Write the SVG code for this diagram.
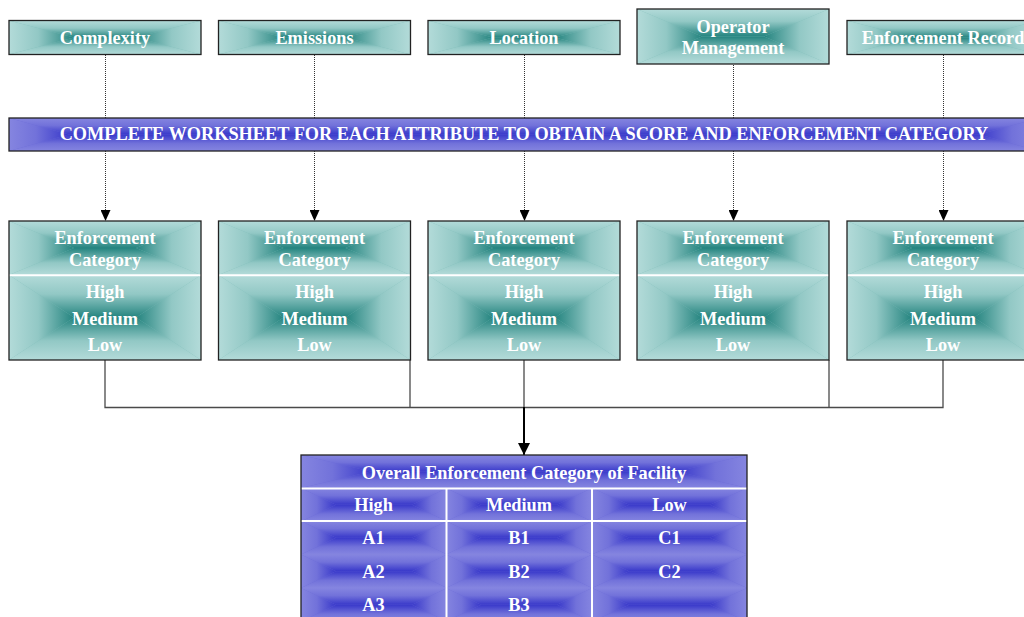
<svg xmlns="http://www.w3.org/2000/svg" xmlns:xlink="http://www.w3.org/1999/xlink" width="1024" height="617" viewBox="0 0 1024 617">
<style>
.t{font-family:"Liberation Serif","Times New Roman",serif;font-weight:bold;font-size:18.3px;fill:#ffffff;text-anchor:middle}
.frame{fill:none;stroke:#222222;stroke-width:1.3}
.dot{fill:none;stroke:#333333;stroke-width:1;stroke-dasharray:1 1}
.conn{fill:none;stroke:#4a4a4a;stroke-width:1.3}
.sep{stroke:#ffffff;stroke-width:2}
</style>
<defs>
<linearGradient id="tT" x1="0" y1="0" x2="0" y2="1"><stop offset="0" stop-color="#B3DBD9"/><stop offset="0.45" stop-color="#92C8C5"/><stop offset="1" stop-color="#24847F"/></linearGradient>
<linearGradient id="tB" x1="0" y1="1" x2="0" y2="0"><stop offset="0" stop-color="#B3DBD9"/><stop offset="0.45" stop-color="#92C8C5"/><stop offset="1" stop-color="#24847F"/></linearGradient>
<linearGradient id="tL" x1="0" y1="0" x2="1" y2="0"><stop offset="0" stop-color="#B3DBD9"/><stop offset="0.45" stop-color="#92C8C5"/><stop offset="1" stop-color="#24847F"/></linearGradient>
<linearGradient id="tR" x1="1" y1="0" x2="0" y2="0"><stop offset="0" stop-color="#B3DBD9"/><stop offset="0.45" stop-color="#92C8C5"/><stop offset="1" stop-color="#24847F"/></linearGradient>
<linearGradient id="bT" x1="0" y1="0" x2="0" y2="1"><stop offset="0" stop-color="#8585E0"/><stop offset="0.45" stop-color="#7272DA"/><stop offset="1" stop-color="#3838CA"/></linearGradient>
<linearGradient id="bB" x1="0" y1="1" x2="0" y2="0"><stop offset="0" stop-color="#8585E0"/><stop offset="0.45" stop-color="#7272DA"/><stop offset="1" stop-color="#3838CA"/></linearGradient>
<linearGradient id="bL" x1="0" y1="0" x2="1" y2="0"><stop offset="0" stop-color="#8585E0"/><stop offset="0.45" stop-color="#7272DA"/><stop offset="1" stop-color="#3838CA"/></linearGradient>
<linearGradient id="bR" x1="1" y1="0" x2="0" y2="0"><stop offset="0" stop-color="#8585E0"/><stop offset="0.45" stop-color="#7272DA"/><stop offset="1" stop-color="#3838CA"/></linearGradient>
<g id="tealTop">
<rect width="192" height="34" fill="#7FBCB9"/>
<polygon points="0,0 192,0 127,17 65,17" fill="url(#tT)"/>
<polygon points="0,34 192,34 127,17 65,17" fill="url(#tB)"/>
<polygon points="0,0 65,17 0,34" fill="url(#tL)"/>
<polygon points="192,0 127,17 192,34" fill="url(#tR)"/>
</g>
<g id="tealOp">
<rect width="192" height="55" fill="#7FBCB9"/>
<polygon points="0,0 192,0 127,27.5 65,27.5" fill="url(#tT)"/>
<polygon points="0,55 192,55 127,27.5 65,27.5" fill="url(#tB)"/>
<polygon points="0,0 65,27.5 0,55" fill="url(#tL)"/>
<polygon points="192,0 127,27.5 192,55" fill="url(#tR)"/>
</g>
<g id="tealHead">
<rect width="192" height="54" fill="#7FBCB9"/>
<polygon points="0,0 192,0 127,27 65,27" fill="url(#tT)"/>
<polygon points="0,54 192,54 127,27 65,27" fill="url(#tB)"/>
<polygon points="0,0 65,27 0,54" fill="url(#tL)"/>
<polygon points="192,0 127,27 192,54" fill="url(#tR)"/>
</g>
<g id="tealBody">
<rect width="192" height="85" fill="#7FBCB9"/>
<polygon points="0,0 192,0 127,42.5 65,42.5" fill="url(#tT)"/>
<polygon points="0,85 192,85 127,42.5 65,42.5" fill="url(#tB)"/>
<polygon points="0,0 65,42.5 0,85" fill="url(#tL)"/>
<polygon points="192,0 127,42.5 192,85" fill="url(#tR)"/>
</g>
<g id="blueBanner">
<rect width="1030" height="33" fill="#6A6AD6"/>
<polygon points="0,0 1030,0 970,16.5 60,16.5" fill="url(#bT)"/>
<polygon points="0,33 1030,33 970,16.5 60,16.5" fill="url(#bB)"/>
<polygon points="0,0 60,16.5 0,33" fill="url(#bL)"/>
<polygon points="1030,0 970,16.5 1030,33" fill="url(#bR)"/>
</g>
<g id="blueTitle">
<rect width="446" height="33" fill="#6A6AD6"/>
<polygon points="0,0 446,0 376,16.5 70,16.5" fill="url(#bT)"/>
<polygon points="0,33 446,33 376,16.5 70,16.5" fill="url(#bB)"/>
<polygon points="0,0 70,16.5 0,33" fill="url(#bL)"/>
<polygon points="446,0 376,16.5 446,33" fill="url(#bR)"/>
</g>
<g id="blueCell">
<rect width="146" height="33.5" fill="#6A6AD6"/>
<polygon points="0,0 146,0 111,16.75 35,16.75" fill="url(#bT)"/>
<polygon points="0,33.5 146,33.5 111,16.75 35,16.75" fill="url(#bB)"/>
<polygon points="0,0 35,16.75 0,33.5" fill="url(#bL)"/>
<polygon points="146,0 111,16.75 146,33.5" fill="url(#bR)"/>
</g>
<marker id="arr" viewBox="0 0 11 10" refX="11" refY="5" markerWidth="11" markerHeight="10" markerUnits="userSpaceOnUse" orient="auto">
<path d="M0,0 L11,5 L0,10 Z" fill="#000000"/>
</marker>
<marker id="arrBig" viewBox="0 0 12 12" refX="12" refY="6" markerWidth="12" markerHeight="12" markerUnits="userSpaceOnUse" orient="auto">
<path d="M0,0 L12,6 L0,12 Z" fill="#000000"/>
</marker>
</defs>

<rect width="1024" height="617" fill="#ffffff"/>

<g id="connectors">
<line class="dot" x1="105.5" y1="55" x2="105.5" y2="221" marker-end="url(#arr)"/>
<line class="dot" x1="314.5" y1="55" x2="314.5" y2="221" marker-end="url(#arr)"/>
<line class="dot" x1="524.5" y1="55" x2="524.5" y2="221" marker-end="url(#arr)"/>
<line class="dot" x1="733.5" y1="65" x2="733.5" y2="221" marker-end="url(#arr)"/>
<line class="dot" x1="943.5" y1="55" x2="943.5" y2="221" marker-end="url(#arr)"/>
<path class="conn" d="M105,360 V407.5 H943 V360"/>
<path class="conn" d="M410,360 V407.5"/>
<path class="conn" d="M829,360 V407.5"/>
<path class="conn" d="M524,360 V407.5"/>
<line x1="524" y1="407" x2="524" y2="455" stroke="#000000" stroke-width="2" marker-end="url(#arrBig)"/>
</g>

<g id="node-complexity">
<use href="#tealTop" x="9" y="20.5"/>
<rect class="frame" x="9" y="20.5" width="192" height="34"/>
<text class="t" x="105" y="44">Complexity</text>
</g>
<g id="node-emissions">
<use href="#tealTop" x="218.5" y="20.5"/>
<rect class="frame" x="218.5" y="20.5" width="192" height="34"/>
<text class="t" x="314.5" y="44">Emissions</text>
</g>
<g id="node-location">
<use href="#tealTop" x="428" y="20.5"/>
<rect class="frame" x="428" y="20.5" width="192" height="34"/>
<text class="t" x="524" y="44">Location</text>
</g>
<g id="node-operator">
<use href="#tealOp" x="637" y="9"/>
<rect class="frame" x="637" y="9" width="192" height="55"/>
<text class="t" x="733" y="33">Operator</text>
<text class="t" x="733" y="54">Management</text>
</g>
<g id="node-enforcement-record">
<use href="#tealTop" x="847" y="20.5"/>
<rect class="frame" x="847" y="20.5" width="192" height="34"/>
<text class="t" x="943" y="44">Enforcement Record</text>
</g>

<g id="node-banner">
<use href="#blueBanner" x="9" y="118"/>
<rect class="frame" x="9" y="118" width="1030" height="33"/>
<text class="t" x="524" y="140">COMPLETE WORKSHEET FOR EACH ATTRIBUTE TO OBTAIN A SCORE AND ENFORCEMENT CATEGORY</text>
</g>

<g id="node-category-1">
<use href="#tealHead" x="9" y="221"/>
<use href="#tealBody" x="9" y="275"/>
<line class="sep" x1="9" y1="275.3" x2="201" y2="275.3" stroke-width="1.5"/>
<rect class="frame" x="9" y="221" width="192" height="139"/>
<text class="t" x="105" y="244">Enforcement</text>
<text class="t" x="105" y="266">Category</text>
<text class="t" x="105" y="298">High</text>
<text class="t" x="105" y="324.5">Medium</text>
<text class="t" x="105" y="350.5">Low</text>
</g>
<g id="node-category-2">
<use href="#tealHead" x="218.5" y="221"/>
<use href="#tealBody" x="218.5" y="275"/>
<line class="sep" x1="218.5" y1="275.3" x2="410.5" y2="275.3" stroke-width="1.5"/>
<rect class="frame" x="218.5" y="221" width="192" height="139"/>
<text class="t" x="314.5" y="244">Enforcement</text>
<text class="t" x="314.5" y="266">Category</text>
<text class="t" x="314.5" y="298">High</text>
<text class="t" x="314.5" y="324.5">Medium</text>
<text class="t" x="314.5" y="350.5">Low</text>
</g>
<g id="node-category-3">
<use href="#tealHead" x="428" y="221"/>
<use href="#tealBody" x="428" y="275"/>
<line class="sep" x1="428" y1="275.3" x2="620" y2="275.3" stroke-width="1.5"/>
<rect class="frame" x="428" y="221" width="192" height="139"/>
<text class="t" x="524" y="244">Enforcement</text>
<text class="t" x="524" y="266">Category</text>
<text class="t" x="524" y="298">High</text>
<text class="t" x="524" y="324.5">Medium</text>
<text class="t" x="524" y="350.5">Low</text>
</g>
<g id="node-category-4">
<use href="#tealHead" x="637" y="221"/>
<use href="#tealBody" x="637" y="275"/>
<line class="sep" x1="637" y1="275.3" x2="829" y2="275.3" stroke-width="1.5"/>
<rect class="frame" x="637" y="221" width="192" height="139"/>
<text class="t" x="733" y="244">Enforcement</text>
<text class="t" x="733" y="266">Category</text>
<text class="t" x="733" y="298">High</text>
<text class="t" x="733" y="324.5">Medium</text>
<text class="t" x="733" y="350.5">Low</text>
</g>
<g id="node-category-5">
<use href="#tealHead" x="847" y="221"/>
<use href="#tealBody" x="847" y="275"/>
<line class="sep" x1="847" y1="275.3" x2="1039" y2="275.3" stroke-width="1.5"/>
<rect class="frame" x="847" y="221" width="192" height="139"/>
<text class="t" x="943" y="244">Enforcement</text>
<text class="t" x="943" y="266">Category</text>
<text class="t" x="943" y="298">High</text>
<text class="t" x="943" y="324.5">Medium</text>
<text class="t" x="943" y="350.5">Low</text>
</g>

<g id="node-overall">
<use href="#blueTitle" x="301" y="455"/>
<use href="#blueCell" x="301" y="488"/>
<use href="#blueCell" x="446" y="488"/>
<use href="#blueCell" transform="translate(592,488) scale(1.062,1)"/>
<use href="#blueCell" x="301" y="521"/>
<use href="#blueCell" x="446" y="521"/>
<use href="#blueCell" transform="translate(592,521) scale(1.062,1)"/>
<use href="#blueCell" x="301" y="554.5"/>
<use href="#blueCell" x="446" y="554.5"/>
<use href="#blueCell" transform="translate(592,554.5) scale(1.062,1)"/>
<use href="#blueCell" x="301" y="588"/>
<use href="#blueCell" x="446" y="588"/>
<use href="#blueCell" transform="translate(592,588) scale(1.062,1)"/>
<line class="sep" x1="301" y1="488.5" x2="747" y2="488.5"/>
<line class="sep" x1="301" y1="521" x2="747" y2="521"/>
<line class="sep" x1="446.5" y1="488.5" x2="446.5" y2="630"/>
<line class="sep" x1="592" y1="488.5" x2="592" y2="630"/>
<rect class="frame" x="301" y="455" width="446" height="175"/>
<text class="t" x="524" y="478.5">Overall Enforcement Category of Facility</text>
<text class="t" x="373.5" y="511">High</text>
<text class="t" x="519" y="511">Medium</text>
<text class="t" x="669.5" y="511">Low</text>
<text class="t" x="373.5" y="543.5">A1</text>
<text class="t" x="519" y="543.5">B1</text>
<text class="t" x="669.5" y="543.5">C1</text>
<text class="t" x="373.5" y="577.5">A2</text>
<text class="t" x="519" y="577.5">B2</text>
<text class="t" x="669.5" y="577.5">C2</text>
<text class="t" x="373.5" y="610.5">A3</text>
<text class="t" x="519" y="610.5">B3</text>
</g>
</svg>
